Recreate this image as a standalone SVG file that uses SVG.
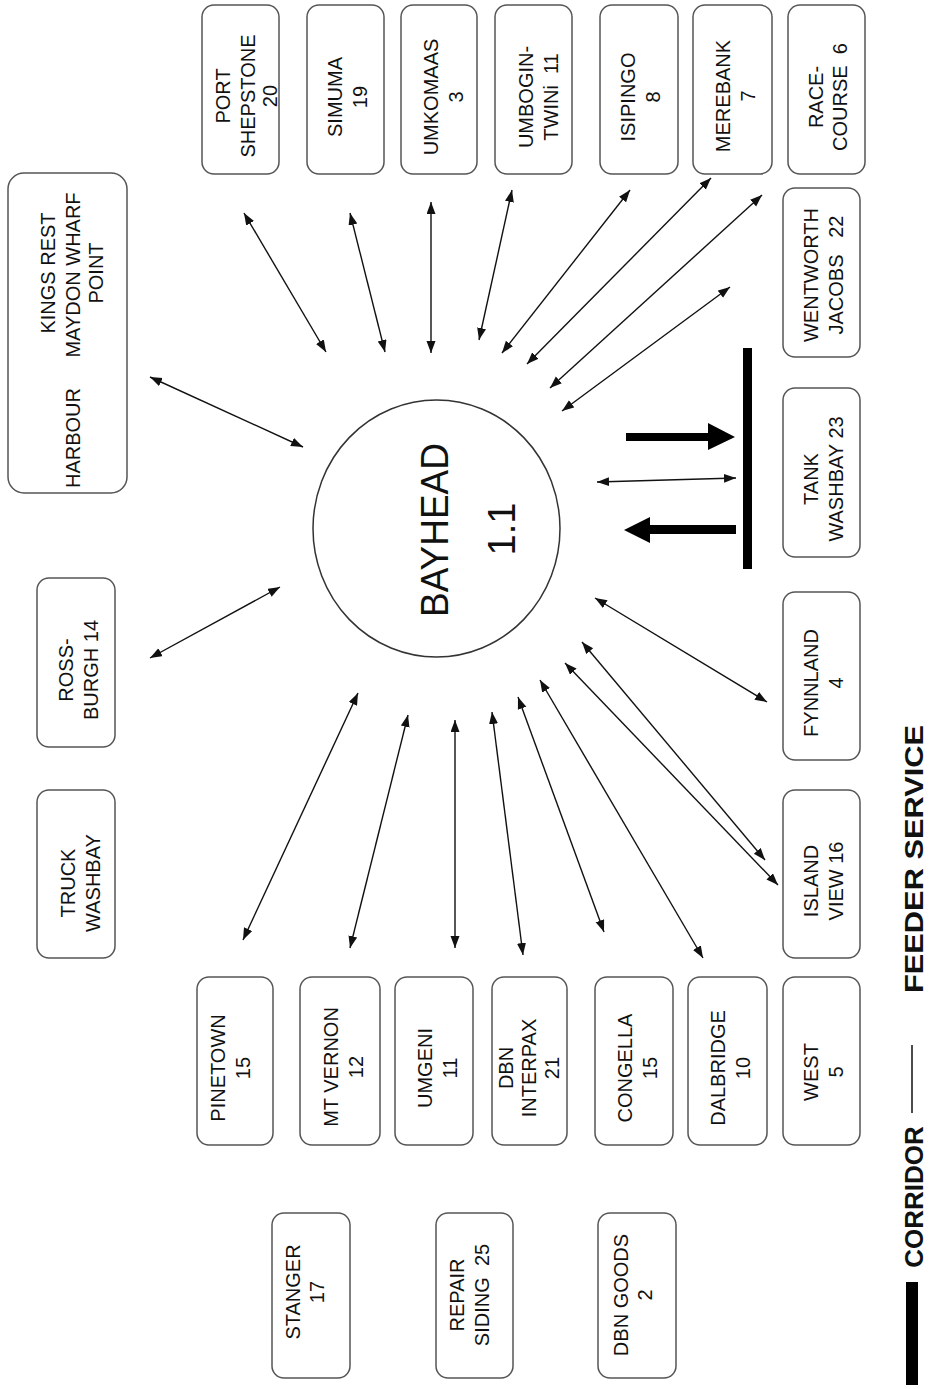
<svg xmlns="http://www.w3.org/2000/svg" width="929" height="1389" viewBox="0 0 929 1389">
<style>
.box{fill:#fff;stroke:#555;stroke-width:1.5}
.lbl{font-family:"Liberation Sans",Arial,sans-serif;font-size:20px;fill:#111;text-anchor:middle;white-space:pre}
.big{font-family:"Liberation Sans",Arial,sans-serif;font-size:38px;fill:#111;text-anchor:middle}
.leg{font-family:"Liberation Sans",Arial,sans-serif;font-weight:bold;font-size:26px;fill:#111;text-anchor:middle}
.con{stroke:#111;stroke-width:1.4;fill:none;marker-start:url(#ah);marker-end:url(#ah)}
</style>
<defs>
<marker id="ah" markerUnits="userSpaceOnUse" markerWidth="13" markerHeight="10" refX="12" refY="4.5" orient="auto-start-reverse">
<path d="M0,0 L12,4.5 L0,9 z" fill="#111"/>
</marker>
</defs>
<rect width="929" height="1389" fill="#fff"/>

<g id="connectors">
<line class="con" x1="244" y1="213" x2="326" y2="352"/>
<line class="con" x1="350" y1="213" x2="385" y2="352"/>
<line class="con" x1="431" y1="202" x2="431" y2="353"/>
<line class="con" x1="512" y1="190" x2="479" y2="340"/>
<line class="con" x1="630" y1="190" x2="502" y2="353"/>
<line class="con" x1="711" y1="178" x2="527" y2="364"/>
<line class="con" x1="762" y1="195" x2="550" y2="388"/>
<line class="con" x1="730" y1="287" x2="562" y2="411"/>
<line class="con" x1="150" y1="377" x2="303" y2="447"/>
<line class="con" x1="280" y1="587" x2="150" y2="658"/>
<line class="con" x1="597" y1="482" x2="736" y2="478"/>
<line class="con" x1="595" y1="598" x2="767" y2="702"/>
<line class="con" x1="582" y1="642" x2="765" y2="860"/>
<line class="con" x1="565" y1="663" x2="778" y2="885"/>
<line class="con" x1="540" y1="680" x2="703" y2="958"/>
<line class="con" x1="518" y1="697" x2="604" y2="932"/>
<line class="con" x1="492" y1="712" x2="523" y2="955"/>
<line class="con" x1="455" y1="720" x2="455" y2="948"/>
<line class="con" x1="408" y1="715" x2="350" y2="948"/>
<line class="con" x1="358" y1="693" x2="243" y2="940"/>
<polygon points="626,433 708,433 708,423 735,437 708,450 708,441 626,441" fill="#000"/>
<polygon points="736,525 650,525 650,517 624,530 650,543 650,534 736,534" fill="#000"/>
<rect x="743" y="348" width="9" height="221" fill="#000"/>
</g>

<g id="bayhead">
<ellipse cx="436.5" cy="528.5" rx="123.5" ry="128.5" fill="#fff" stroke="#333" stroke-width="1.5"/>
<text class="big" transform="translate(448,530) rotate(-90)" textLength="174" lengthAdjust="spacingAndGlyphs">BAYHEAD</text>
<text class="big" transform="translate(515,529) rotate(-90)">1.1</text>
</g>

<g id="port-shepstone"><rect class="box" x="202" y="5" width="77" height="169" rx="12"/>
<text class="lbl" transform="translate(230,96) rotate(-90)">PORT</text>
<text class="lbl" transform="translate(255,96) rotate(-90)">SHEPSTONE</text>
<text class="lbl" transform="translate(277,96) rotate(-90)">20</text></g>
<g id="simuma"><rect class="box" x="307" y="5" width="77" height="169" rx="12"/>
<text class="lbl" transform="translate(342,97) rotate(-90)">SIMUMA</text>
<text class="lbl" transform="translate(367,97) rotate(-90)">19</text></g>
<g id="umkomaas"><rect class="box" x="401" y="5" width="76" height="169" rx="12"/>
<text class="lbl" transform="translate(438,97) rotate(-90)">UMKOMAAS</text>
<text class="lbl" transform="translate(463,97) rotate(-90)">3</text></g>
<g id="umbogintwini"><rect class="box" x="495" y="5" width="77" height="169" rx="12"/>
<text class="lbl" transform="translate(533,97) rotate(-90)">UMBOGIN-</text>
<text class="lbl" transform="translate(558,97) rotate(-90)">TWINi  11</text></g>
<g id="isipingo"><rect class="box" x="600" y="5" width="78" height="169" rx="12"/>
<text class="lbl" transform="translate(635,97) rotate(-90)">ISIPINGO</text>
<text class="lbl" transform="translate(660,97) rotate(-90)">8</text></g>
<g id="merebank"><rect class="box" x="693" y="5" width="79" height="169" rx="12"/>
<text class="lbl" transform="translate(730,96) rotate(-90)">MEREBANK</text>
<text class="lbl" transform="translate(755,96) rotate(-90)">7</text></g>
<g id="racecourse"><rect class="box" x="788" y="5" width="77" height="169" rx="12"/>
<text class="lbl" transform="translate(823,97) rotate(-90)">RACE-</text>
<text class="lbl" transform="translate(847,97) rotate(-90)">COURSE  6</text></g>

<g id="harbour"><rect class="box" x="8" y="173" width="119" height="320" rx="16"/>
<text class="lbl" transform="translate(55,273) rotate(-90)">KINGS REST</text>
<text class="lbl" transform="translate(80,275) rotate(-90)">MAYDON WHARF</text>
<text class="lbl" transform="translate(103,273) rotate(-90)">POINT</text>
<text class="lbl" transform="translate(80,488) rotate(-90)" style="text-anchor:start">HARBOUR</text></g>
<g id="rossburgh"><rect class="box" x="37" y="578" width="78" height="169" rx="12"/>
<text class="lbl" transform="translate(73,670) rotate(-90)">ROSS-</text>
<text class="lbl" transform="translate(98,670) rotate(-90)">BURGH 14</text></g>
<g id="truck-washbay"><rect class="box" x="37" y="790" width="78" height="168" rx="12"/>
<text class="lbl" transform="translate(75,883) rotate(-90)">TRUCK</text>
<text class="lbl" transform="translate(100,883) rotate(-90)">WASHBAY</text></g>

<g id="wentworth"><rect class="box" x="783" y="188" width="77" height="169" rx="12"/>
<text class="lbl" transform="translate(818,275) rotate(-90)">WENTWORTH</text>
<text class="lbl" transform="translate(843,275) rotate(-90)">JACOBS   22</text></g>
<g id="tank-washbay"><rect class="box" x="783" y="388" width="77" height="169" rx="12"/>
<text class="lbl" transform="translate(818,479) rotate(-90)">TANK</text>
<text class="lbl" transform="translate(843,479) rotate(-90)">WASHBAY 23</text></g>
<g id="fynnland"><rect class="box" x="783" y="592" width="77" height="168" rx="12"/>
<text class="lbl" transform="translate(818,683) rotate(-90)">FYNNLAND</text>
<text class="lbl" transform="translate(843,683) rotate(-90)">4</text></g>
<g id="island-view"><rect class="box" x="783" y="790" width="77" height="168" rx="12"/>
<text class="lbl" transform="translate(818,881) rotate(-90)">ISLAND</text>
<text class="lbl" transform="translate(843,881) rotate(-90)">VIEW 16</text></g>

<g id="pinetown"><rect class="box" x="197" y="977" width="76" height="168" rx="12"/>
<text class="lbl" transform="translate(225,1068) rotate(-90)">PINETOWN</text>
<text class="lbl" transform="translate(250,1068) rotate(-90)">15</text></g>
<g id="mt-vernon"><rect class="box" x="300" y="977" width="80" height="168" rx="12"/>
<text class="lbl" transform="translate(338,1067) rotate(-90)">MT VERNON</text>
<text class="lbl" transform="translate(363,1067) rotate(-90)">12</text></g>
<g id="umgeni"><rect class="box" x="395" y="977" width="78" height="168" rx="12"/>
<text class="lbl" transform="translate(432,1068) rotate(-90)">UMGENI</text>
<text class="lbl" transform="translate(457,1068) rotate(-90)">11</text></g>
<g id="dbn-interpax"><rect class="box" x="492" y="977" width="75" height="168" rx="12"/>
<text class="lbl" transform="translate(513,1068) rotate(-90)">DBN</text>
<text class="lbl" transform="translate(536,1068) rotate(-90)">INTERPAX</text>
<text class="lbl" transform="translate(559,1068) rotate(-90)">21</text></g>
<g id="congella"><rect class="box" x="595" y="977" width="78" height="168" rx="12"/>
<text class="lbl" transform="translate(632,1068) rotate(-90)">CONGELLA</text>
<text class="lbl" transform="translate(657,1068) rotate(-90)">15</text></g>
<g id="dalbridge"><rect class="box" x="688" y="977" width="79" height="168" rx="12"/>
<text class="lbl" transform="translate(725,1068) rotate(-90)">DALBRIDGE</text>
<text class="lbl" transform="translate(750,1068) rotate(-90)">10</text></g>
<g id="west"><rect class="box" x="783" y="977" width="77" height="168" rx="12"/>
<text class="lbl" transform="translate(818,1072) rotate(-90)">WEST</text>
<text class="lbl" transform="translate(843,1072) rotate(-90)">5</text></g>

<g id="stanger"><rect class="box" x="272" y="1213" width="78" height="165" rx="12"/>
<text class="lbl" transform="translate(300,1292) rotate(-90)">STANGER</text>
<text class="lbl" transform="translate(324,1292) rotate(-90)">17</text></g>
<g id="repair-siding"><rect class="box" x="436" y="1213" width="77" height="165" rx="12"/>
<text class="lbl" transform="translate(464,1295) rotate(-90)">REPAIR</text>
<text class="lbl" transform="translate(489,1295) rotate(-90)">SIDING  25</text></g>
<g id="dbn-goods"><rect class="box" x="598" y="1213" width="78" height="165" rx="12"/>
<text class="lbl" transform="translate(628,1295) rotate(-90)">DBN GOODS</text>
<text class="lbl" transform="translate(652,1295) rotate(-90)">2</text></g>

<g id="legend">
<rect x="906" y="1282" width="12" height="103" fill="#000"/>
<text class="leg" transform="translate(923,1197) rotate(-90)">CORRIDOR</text>
<line x1="912" y1="1045" x2="912" y2="1113" stroke="#111" stroke-width="1.5"/>
<text class="leg" transform="translate(923,859) rotate(-90)" textLength="268" lengthAdjust="spacingAndGlyphs">FEEDER SERVICE</text>
</g>
</svg>
